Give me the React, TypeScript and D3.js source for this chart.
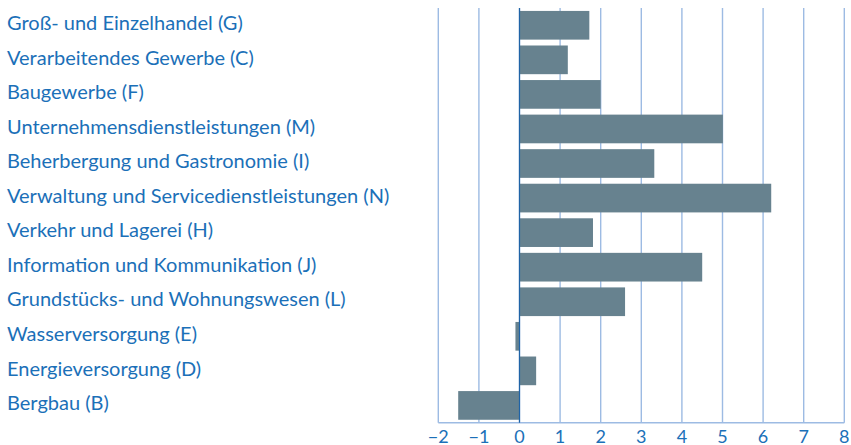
import React from "react";
import * as d3 from "d3";

const categories: string[] = [
  "Groß- und Einzelhandel (G)",
  "Verarbeitendes Gewerbe (C)",
  "Baugewerbe (F)",
  "Unternehmensdienstleistungen (M)",
  "Beherbergung und Gastronomie (I)",
  "Verwaltung und Servicedienstleistungen (N)",
  "Verkehr und Lagerei (H)",
  "Information und Kommunikation (J)",
  "Grundstücks- und Wohnungswesen (L)",
  "Wasserversorgung (E)",
  "Energieversorgung (D)",
  "Bergbau (B)",
];
const values: number[] = [1.72, 1.19, 2.0, 5.01, 3.32, 6.2, 1.81, 4.5, 2.6, -0.1, 0.41, -1.51];
const ticks: number[] = [-2, -1, 0, 1, 2, 3, 4, 5, 6, 7, 8];

const W = 851;
const H = 445;
const FONT = "Lato, 'Open Sans', sans-serif";
const TEXT = "#1b70b8";
const BAR = "#67828f";
const GRID = "#9dbbe3";

export default function App() {
  const x = d3.scaleLinear().domain([-2, 8]).range([438.3, 844.3]);
  const y = d3
    .scaleBand<string>()
    .domain(categories)
    .range([8, 422.7])
    .paddingInner(0.17)
    .paddingOuter(0.085);
  const fmt = (t: number) => (t < 0 ? "\u2212" + Math.abs(t) : String(t));
  return (
    <svg
      width={W}
      height={H}
      style={{ position: "absolute", left: 0, top: 0, background: "#fff" }}
      fontFamily={FONT}
    >
      {ticks.map((t) => (
        <line
          key={"g" + t}
          x1={x(t)}
          x2={x(t)}
          y1={8}
          y2={422.7}
          stroke={GRID}
          strokeWidth={1.4}
        />
      ))}
      <line x1={x(-2)} x2={x(8)} y1={422.7} y2={422.7} stroke={GRID} strokeWidth={1.4} />
      {categories.map((c, i) => {
        const v = values[i];
        return (
          <rect
            key={c}
            x={x(Math.min(0, v))}
            width={Math.abs(x(v) - x(0))}
            y={y(c)}
            height={y.bandwidth()}
            fill={BAR}
          />
        );
      })}
      <line x1={x(0)} x2={x(0)} y1={8} y2={422.7} stroke="#1f63a6" strokeWidth={1.2} />
      {categories.map((c) => (
        <text
          key={"l" + c}
          x={7}
          y={(y(c) as number) + y.bandwidth() / 2 + 4.7}
          fill={TEXT}
          fontSize={20}
        >
          {c}
        </text>
      ))}
      {ticks.map((t) => (
        <text
          key={"t" + t}
          x={x(t)}
          y={442.5}
          fill={TEXT}
          fontSize={18}
          textAnchor="middle"
        >
          {fmt(t)}
        </text>
      ))}
    </svg>
  );
}
